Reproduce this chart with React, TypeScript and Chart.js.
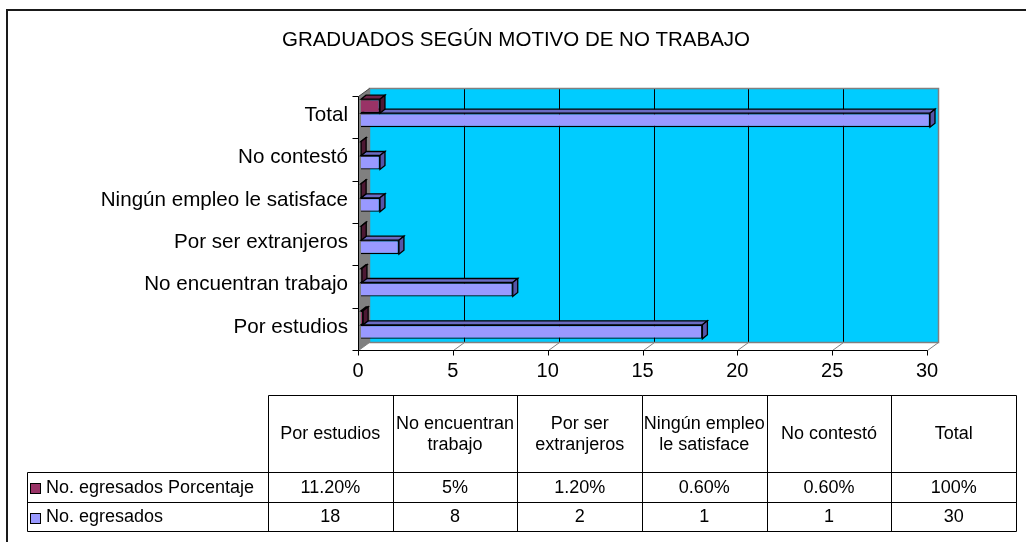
import React, { useEffect, useRef } from "react";
import { Chart, registerables } from "chart.js";

Chart.register(...registerables);

// ---------- data ----------
const TITLE = "GRADUADOS SEGÚN MOTIVO DE NO TRABAJO";
const categories = [
  "Por estudios",
  "No encuentran trabajo",
  "Por ser extranjeros",
  "Ningún empleo le satisface",
  "No contestó",
  "Total",
];
const pctSeriesLabel = "No. egresados Porcentaje";
const countSeriesLabel = "No. egresados";
const pctValues = [0.112, 0.05, 0.012, 0.006, 0.006, 1];
const countValues = [18, 8, 2, 1, 1, 30];
const xMin = 0;
const xMax = 30;
const xStep = 5;

// ---------- styles ----------
const FONT = "'Liberation Sans', Arial, Helvetica, sans-serif";
const PCT_COLOR = "#993366";
const PCT_TOP = "#6E2449";
const PCT_SIDE = "#4D1933";
const CNT_COLOR = "#9999FF";
const CNT_TOP = "#6B6BC2";
const CNT_SIDE = "#5555A8";
const WALL_BACK = "#00CCFF";
const WALL_SIDE = "#808080";

const FRONT = { dx: -3, dy: 4 };
const BACK = { dx: 8, dy: -4 };
const BAR_D = { dx: 5, dy: 4 };

const TABLE = {
  top: 395,
  headBottom: 472,
  row1Bottom: 502,
  row2Bottom: 531,
  left: 27,
  colStart: 268,
  right: 1016,
};

function fmtPct(v: number): string {
  const p = v * 100;
  if (Math.abs(p - Math.round(p)) < 1e-9) return Math.round(p) + "%";
  return p.toFixed(2) + "%";
}

function poly(ctx: CanvasRenderingContext2D, pts: number[][], fill?: string, stroke?: string, lw = 1) {
  ctx.beginPath();
  ctx.moveTo(pts[0][0], pts[0][1]);
  for (let i = 1; i < pts.length; i++) ctx.lineTo(pts[i][0], pts[i][1]);
  ctx.closePath();
  if (fill) {
    ctx.fillStyle = fill;
    ctx.fill();
  }
  if (stroke) {
    ctx.strokeStyle = stroke;
    ctx.lineWidth = lw;
    ctx.stroke();
  }
}

function line(ctx: CanvasRenderingContext2D, x1: number, y1: number, x2: number, y2: number, color: string, lw = 1) {
  ctx.beginPath();
  ctx.moveTo(x1, y1);
  ctx.lineTo(x2, y2);
  ctx.strokeStyle = color;
  ctx.lineWidth = lw;
  ctx.stroke();
}

const wallsPlugin = {
  id: "walls3d",
  beforeDatasetsDraw(chart: any) {
    const { ctx, chartArea: a, scales } = chart;
    const xs = scales.x;
    const r = (v: number) => Math.round(v) + 0.5;
    const fL = r(a.left + FRONT.dx), fR = r(a.right + FRONT.dx);
    const fT = r(a.top + FRONT.dy), fB = r(a.bottom + FRONT.dy);
    const bL = r(a.left + BACK.dx), bR = r(a.right + BACK.dx);
    const bT = r(a.top + BACK.dy), bB = r(a.bottom + BACK.dy);
    ctx.save();
    // back wall
    ctx.fillStyle = WALL_BACK;
    ctx.fillRect(bL, bT, bR - bL, bB - bT);
    // floor
    poly(ctx, [[fL, fB], [bL, bB], [bR, bB], [fR, fB]], "#FFFFFF");
    // left wall
    poly(ctx, [[fL, fT], [bL, bT], [bL, bB], [fL, fB]], WALL_SIDE);
    // gridlines on back wall
    xs.ticks.forEach((t: any) => {
      if (t.value === xMin || t.value === xMax) return;
      const px = r(xs.getPixelForValue(t.value) + BACK.dx);
      line(ctx, px, bT, px, bB, "#000000", 1);
    });
    // back wall border
    ctx.strokeStyle = WALL_SIDE;
    ctx.lineWidth = 1.5;
    ctx.strokeRect(bL, bT, bR - bL, bB - bT);
    // floor diagonals
    xs.ticks.forEach((t: any) => {
      const p = xs.getPixelForValue(t.value);
      line(ctx, r(p + FRONT.dx), fB, r(p + BACK.dx), bB, WALL_SIDE, 1);
    });
    line(ctx, fL, fT, bL, bT, "#404040", 1);
    // front axis lines
    line(ctx, fL, fT, fL, fB, "#000000", 1);
    line(ctx, fL, fB, fR, fB, "#000000", 1);
    // x ticks
    xs.ticks.forEach((t: any) => {
      const px = r(xs.getPixelForValue(t.value) + FRONT.dx);
      line(ctx, px, fB, px, fB + 5, "#000000", 1);
    });
    // y ticks at category boundaries
    const n = categories.length;
    for (let i = 0; i <= n; i++) {
      const y = r(a.top + (i * a.height) / n + FRONT.dy);
      line(ctx, fL - 6, y, fL, y, "#000000", 1);
    }
    ctx.restore();
  },
  afterDatasetDraw(chart: any, args: any) {
    const { ctx } = chart;
    const meta = args.meta;
    const isPct = args.index === 0;
    const topC = isPct ? PCT_TOP : CNT_TOP;
    const sideC = isPct ? PCT_SIDE : CNT_SIDE;
    ctx.save();
    ctx.lineJoin = "miter";
    meta.data.forEach((el: any) => {
      const { x, y, base, height } = el.getProps(["x", "y", "base", "height"], true);
      const top = y - height / 2;
      const bot = y + height / 2;
      const dx = BAR_D.dx, dy = BAR_D.dy;
      poly(ctx, [[base, top], [base + dx, top - dy], [x + dx, top - dy], [x, top]], topC, "#000000", 1.3);
      poly(ctx, [[x, top], [x + dx, top - dy], [x + dx, bot - dy], [x, bot]], sideC, "#000000", 1.3);
    });
    ctx.restore();
  },
  afterDraw(chart: any) {
    const { ctx } = chart;
    const T = TABLE;
    const n = categories.length;
    const cw = (T.right - T.colStart) / n;
    const r = (v: number) => Math.round(v) + 0.5;
    ctx.save();
    // outer frame
    line(ctx, 7, 10, 7, 560, "#1a1a1a", 2);
    line(ctx, 6, 10, 1040, 10, "#1a1a1a", 2);

    // table lines
    const lc = "#000000";
    line(ctx, r(T.colStart), r(T.top), r(T.right), r(T.top), lc, 1);
    for (let k = 0; k <= n; k++) {
      const x = r(T.colStart + k * cw);
      line(ctx, x, r(T.top), x, r(T.row2Bottom), lc, 1);
    }
    [T.headBottom, T.row1Bottom, T.row2Bottom].forEach((y) =>
      line(ctx, r(T.left), r(y), r(T.right), r(y), lc, 1)
    );
    line(ctx, r(T.left), r(T.headBottom), r(T.left), r(T.row2Bottom), lc, 1);

    ctx.fillStyle = "#000000";
    ctx.font = `18px ${FONT}`;
    ctx.textAlign = "center";
    ctx.textBaseline = "middle";
    // header labels (word wrap)
    categories.forEach((label, i) => {
      const maxW = cw - 1;
      const words = label.split(" ");
      const lines: string[] = [];
      let cur = "";
      words.forEach((w) => {
        const test = cur ? cur + " " + w : w;
        if (ctx.measureText(test).width > maxW && cur) {
          lines.push(cur);
          cur = w;
        } else cur = test;
      });
      if (cur) lines.push(cur);
      const lh = 21;
      const cy = (T.top + T.headBottom) / 2 + 1;
      const cx = T.colStart + (i + 0.5) * cw;
      lines.forEach((ln, j) => {
        ctx.fillText(ln, cx, cy + (j - (lines.length - 1) / 2) * lh);
      });
    });
    // rows
    const rows = [
      { label: pctSeriesLabel, color: PCT_COLOR, vals: pctValues.map(fmtPct), y0: T.headBottom, y1: T.row1Bottom },
      { label: countSeriesLabel, color: CNT_COLOR, vals: countValues.map((v) => String(v)), y0: T.row1Bottom, y1: T.row2Bottom },
    ];
    rows.forEach((row) => {
      const cy = (row.y0 + row.y1) / 2 + 1;
      ctx.fillStyle = row.color;
      ctx.fillRect(30.5, Math.round(cy - 5) + 0.5, 10, 10);
      ctx.strokeStyle = "#000";
      ctx.lineWidth = 1;
      ctx.strokeRect(30.5, Math.round(cy - 5) + 0.5, 10, 10);
      ctx.fillStyle = "#000";
      ctx.textAlign = "left";
      ctx.fillText(row.label, 46, cy);
      ctx.textAlign = "center";
      row.vals.forEach((v, i) => {
        ctx.fillText(v, T.colStart + (i + 0.5) * cw, cy);
      });
    });
    ctx.restore();
  },
};

export default function App() {
  const ref = useRef<HTMLCanvasElement | null>(null);
  useEffect(() => {
    document.body.style.margin = "0";
    const canvas = ref.current;
    if (!canvas) return;
    const chart = new Chart(canvas, {
      type: "bar",
      data: {
        labels: categories,
        datasets: [
          {
            label: pctSeriesLabel,
            data: pctValues,
            backgroundColor: PCT_COLOR,
            borderColor: "#000000",
            borderWidth: 1.3,
            categoryPercentage: 0.66,
            barPercentage: 1,
          },
          {
            label: countSeriesLabel,
            data: countValues,
            backgroundColor: CNT_COLOR,
            borderColor: "#000000",
            borderWidth: 1.3,
            categoryPercentage: 0.66,
            barPercentage: 1,
          },
        ],
      },
      options: {
        responsive: false,
        animation: false,
        devicePixelRatio: 1,
        indexAxis: "y",
        layout: { padding: { left: 102, right: 96, top: 0, bottom: 156 } },
        plugins: {
          legend: { display: false },
          tooltip: { enabled: false },
          title: {
            display: true,
            text: TITLE,
            color: "#000000",
            font: { family: FONT, size: 20.5, weight: "normal", lineHeight: 1.2 },
            padding: { top: 28, bottom: 39.4 },
          },
        },
        scales: {
          x: {
            type: "linear",
            position: "bottom",
            min: xMin,
            max: xMax,
            ticks: {
              stepSize: xStep,
              color: "#000000",
              font: { family: FONT, size: 20 },
              padding: 13,
              labelOffset: -3,
            },
            grid: { display: false, drawTicks: false },
            border: { display: false },
            afterFit: (s: any) => {
              s.height = 40;
            },
          },
          y: {
            type: "category",
            reverse: true,
            ticks: {
              color: "#000000",
              font: { family: FONT, size: 20.6 },
              padding: 13,
              labelOffset: 2,
              autoSkip: false,
            },
            grid: { display: false, drawTicks: false },
            border: { display: false },
            afterFit: (s: any) => {
              s.width = 259;
            },
          },
        },
      } as any,
      plugins: [wallsPlugin],
    });
    return () => chart.destroy();
  }, []);
  return (
    <div style={{ width: 1026, height: 542, position: "relative", background: "#ffffff" }}>
      <canvas ref={ref} width={1026} height={542} style={{ display: "block" }} />
    </div>
  );
}
